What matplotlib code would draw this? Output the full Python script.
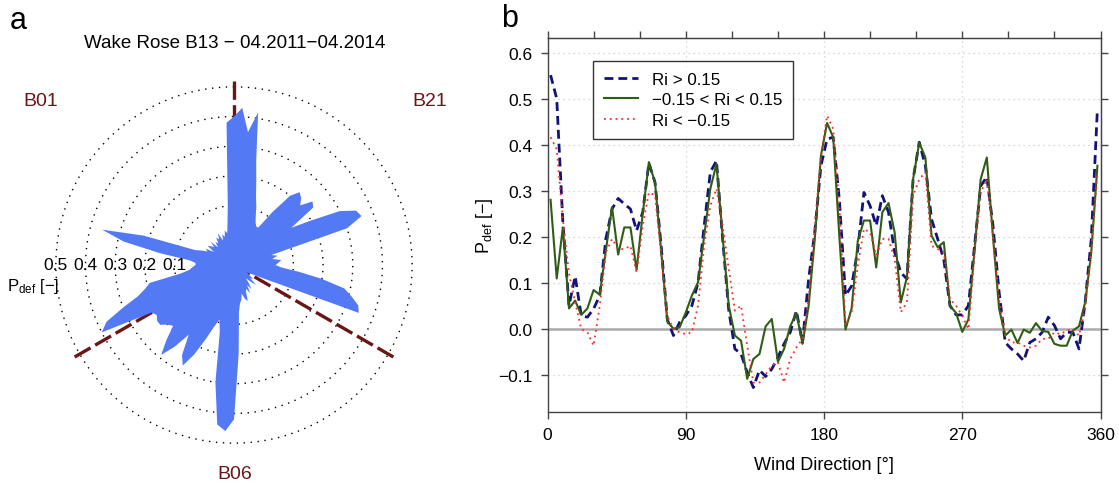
import numpy as np
import matplotlib
matplotlib.use('Agg')
import matplotlib.pyplot as plt

plt.rcParams['font.family'] = ['Liberation Sans', 'DejaVu Sans']
plt.rcParams['mathtext.fontset'] = 'custom'
plt.rcParams['mathtext.rm'] = 'Liberation Sans'
plt.rcParams['mathtext.it'] = 'Liberation Sans:italic'

# ---------------- data ----------------
rose_title = "Wake Rose B13 \u2212 04.2011\u221204.2014"
rose_dir = np.arange(0, 360, 3)
rose_pdef = [
    0.40, 0.43, 0.35, 0.42, 0.26, 0.19, 0.14, 0.11, 0.08, 0.06,
    0.05, 0.05, 0.12, 0.20, 0.23, 0.22, 0.20, 0.24, 0.23, 0.13,
    0.20, 0.30, 0.35, 0.36, 0.30, 0.03, 0.05, 0.03, 0.06, 0.05,
    0.04, 0.06, 0.12, 0.20, 0.28, 0.31, 0.34, 0.35, 0.02, -0.03,
    -0.05, -0.04, -0.02, -0.03, 0.00, -0.02, -0.04, -0.02, 0.00, -0.02,
    0.01, -0.01, 0.00, 0.03, 0.02, 0.00, 0.02, 0.03, 0.06, 0.20,
    0.42, 0.46, 0.44, 0.30, 0.13, 0.09, 0.12, 0.17, 0.23, 0.28,
    0.25, 0.18, 0.24, 0.29, 0.24, 0.19, 0.20, 0.22, 0.22, 0.21,
    0.22, 0.40, 0.37, 0.30, 0.24, 0.21, 0.19, 0.08, 0.05, 0.04,
    0.03, 0.03, 0.05, 0.15, 0.28, 0.36, 0.22, 0.04, 0.02, 0.00,
    0.01, -0.02, 0.01, 0.00, -0.01, 0.01, -0.02, 0.00, -0.01, 0.01,
    0.00, 0.02, -0.01, 0.01, 0.00, 0.02, 0.01, 0.04, 0.10, 0.38,
]
neighbour_labels = ["B01", "B21", "B06"]
neighbour_dirs = [0, 120, 240]
radial_ticks = [0.1, 0.2, 0.3, 0.4, 0.5]

wind_dir = np.arange(2, 360, 4)
pdef_stable = [
    0.551, 0.500, 0.231, 0.050, 0.114, 0.028, 0.025, 0.043, 0.072, 0.195,
    0.260, 0.283, 0.271, 0.260, 0.213, 0.253, 0.360, 0.318, 0.180, 0.020,
    -0.015, 0.014, 0.028, 0.050, 0.100, 0.224, 0.340, 0.365, 0.195, 0.040,
    -0.044, -0.055, -0.095, -0.128, -0.090, -0.104, -0.088, -0.062, -0.033, -0.008,
    0.039, -0.030, 0.108, 0.210, 0.354, 0.412, 0.416, 0.280, 0.072, 0.093,
    0.173, 0.296, 0.267, 0.224, 0.289, 0.253, 0.166, 0.122, 0.108, 0.325,
    0.405, 0.354, 0.238, 0.195, 0.150, 0.050, 0.030, 0.030, 0.050, 0.180,
    0.310, 0.330, 0.224, 0.079, -0.030, -0.044, -0.055, -0.070, -0.030, -0.022,
    -0.008, 0.025, 0.007, -0.022, -0.008, -0.008, -0.044, 0.057, 0.195, 0.478,
]
pdef_neutral = [
    0.280, 0.109, 0.220, 0.044, 0.061, 0.030, 0.044, 0.084, 0.074, 0.170,
    0.264, 0.161, 0.220, 0.220, 0.128, 0.250, 0.362, 0.317, 0.170, 0.015,
    0.000, 0.003, 0.035, 0.072, 0.101, 0.202, 0.304, 0.358, 0.200, 0.050,
    -0.015, -0.026, -0.109, -0.066, -0.055, 0.005, 0.021, -0.072, -0.044, 0.005,
    0.034, -0.033, 0.050, 0.195, 0.376, 0.447, 0.416, 0.200, -0.002, 0.044,
    0.191, 0.235, 0.235, 0.133, 0.253, 0.273, 0.209, 0.057, 0.112, 0.325,
    0.404, 0.372, 0.202, 0.177, 0.188, 0.050, 0.034, -0.007, 0.020, 0.170,
    0.325, 0.372, 0.200, 0.043, -0.015, -0.002, -0.031, -0.002, -0.009, 0.012,
    -0.005, -0.007, -0.033, -0.037, -0.037, -0.004, 0.005, 0.057, 0.166, 0.354,
]
pdef_unstable = [
    0.416, 0.390, 0.238, 0.120, 0.057, -0.001, -0.008, -0.037, 0.050, 0.166,
    0.195, 0.173, 0.173, 0.180, 0.122, 0.224, 0.296, 0.290, 0.159, 0.028,
    -0.001, -0.008, -0.012, -0.008, 0.050, 0.180, 0.267, 0.304, 0.224, 0.130,
    0.039, 0.050, -0.037, -0.117, -0.117, -0.099, -0.080, -0.073, -0.117, -0.066,
    -0.041, -0.022, 0.064, 0.224, 0.376, 0.463, 0.434, 0.267, 0.007, 0.036,
    0.137, 0.217, 0.209, 0.159, 0.195, 0.195, 0.151, 0.036, 0.057, 0.289,
    0.325, 0.340, 0.180, 0.173, 0.166, 0.064, 0.050, 0.028, -0.001, 0.166,
    0.296, 0.325, 0.200, 0.064, -0.015, -0.030, -0.030, -0.037, -0.041, -0.037,
    -0.022, -0.022, -0.008, -0.012, -0.004, -0.001, -0.015, 0.043, 0.173, 0.340,
]
series_labels = ["Ri > 0.15", "\u22120.15 < Ri < 0.15", "Ri < \u22120.15"]
xticks_major = [0, 90, 180, 270, 360]
yticks = [-0.1, 0.0, 0.1, 0.2, 0.3, 0.4, 0.5, 0.6]

PDEF_LABEL = '$\\mathregular{P_{def}}$ [\u2212]'

# ---------------- figure ----------------
W, H = 1119, 485
fig = plt.figure(figsize=(W / 100, H / 100), dpi=100)

def fx(px):
    return px / W

def fy(py):
    return 1 - py / H

# ---- panel a: polar wake rose ----
cx, cy, rad = 234, 266, 193
axp = fig.add_axes([fx(cx - rad), fy(cy + rad), 2 * rad / W, 2 * rad / H], projection='polar')
axp.set_theta_zero_location('N')
axp.set_theta_direction(-1)
axp.set_ylim(-0.1, 0.55)
axp.set_xticks([])
axp.set_yticks([])
axp.grid(False)
axp.spines['polar'].set_visible(False)
axp.patch.set_alpha(0)

circ = np.linspace(0, 2 * np.pi, 721)
for r in radial_ticks:
    axp.plot(circ, np.full_like(circ, r), color='black', lw=1.0,
             linestyle=(0, (1, 4)), zorder=1)
for d in neighbour_dirs:
    t = np.deg2rad(d)
    axp.plot([t, t], [-0.1, 0.53], color='#6b1616', lw=2.4,
             dashes=(5.5, 1.6), zorder=2, solid_capstyle='butt')

th = np.deg2rad(np.append(rose_dir, rose_dir[0]))
rv = np.append(rose_pdef, rose_pdef[0])
axp.fill(th, rv, color='#5479f5', lw=0, zorder=3)

for r in radial_ticks:
    axp.text(np.deg2rad(270), r, f"{r:.1f}", ha='center', va='center',
             fontsize=12.5, color='black', zorder=5)

fig.text(fx(33), fy(287), PDEF_LABEL, ha='center', va='center', fontsize=12)
fig.text(fx(235), fy(44), rose_title, ha='center', va='center', fontsize=13.5)
fig.text(fx(41), fy(102), neighbour_labels[0], ha='center', va='center', fontsize=14, color='#6b1616')
fig.text(fx(430), fy(102), neighbour_labels[1], ha='center', va='center', fontsize=14, color='#6b1616')
fig.text(fx(235), fy(475), neighbour_labels[2], ha='center', va='center', fontsize=14, color='#6b1616')
fig.text(fx(18), fy(21), 'a', ha='center', va='center', fontsize=22)
fig.text(fx(510), fy(19), 'b', ha='center', va='center', fontsize=22)

# ---- panel b: line chart ----
left, right, top, bottom = 547.5, 1100.5, 39.3, 412.5
ax = fig.add_axes([fx(left), fy(bottom), (right - left) / W, (bottom - top) / H])
ax.set_xlim(0, 360)
ax.set_ylim(-0.18, 0.631)

ax.axhline(0, color='#aaaaaa', lw=1.8, zorder=1)
for xv in xticks_major:
    ax.axvline(xv, color='#cccccc', lw=0.9, linestyle=(0, (1, 3)), zorder=0)
for yv in yticks:
    if yv != 0:
        ax.axhline(yv, color='#cccccc', lw=0.9, linestyle=(0, (1, 3)), zorder=0)

ax.plot(wind_dir, pdef_stable, color='#12127a', lw=2.0, dashes=(3.2, 1.8),
        label=series_labels[0], zorder=3)
ax.plot(wind_dir, pdef_neutral, color='#2f5d14', lw=1.5, label=series_labels[1], zorder=4)
ax.plot(wind_dir, pdef_unstable, color='#ff2a2a', lw=1.3, linestyle=(0, (1, 2.2)),
        label=series_labels[2], zorder=5)

ax.set_xticks(xticks_major)
ax.set_xticklabels([str(v) for v in xticks_major])
ax.set_yticks(yticks)
ax.set_yticklabels([f"{v:.1f}".replace('-', '\u2212') for v in yticks])
ax.tick_params(axis='both', direction='out', length=5, width=1, color='#444444',
               labelsize=12.5, pad=6)

# top and right ticks
axt = ax.secondary_xaxis('top')
axt.set_xticks(np.arange(0, 361, 30))
axt.set_xticklabels([])
axt.tick_params(direction='out', length=5, width=1, color='#444444')
axt.spines['top'].set_color('#444444')
axr = ax.secondary_yaxis('right')
axr.set_yticks(yticks)
axr.set_yticklabels([])
axr.tick_params(direction='out', length=5, width=1, color='#444444')
axr.spines['right'].set_color('#444444')

for s in ax.spines.values():
    s.set_color('#444444')
    s.set_linewidth(1.0)

ax.set_xlabel('Wind Direction [\u00b0]', fontsize=13, labelpad=10)
ax.set_ylabel(PDEF_LABEL, fontsize=13, labelpad=2)

leg = ax.legend(loc='upper left', bbox_to_anchor=((593.3 - left) / (right - left), (bottom - 61.7) / (bottom - top)),
                borderaxespad=0, fontsize=12.2, frameon=True, fancybox=False,
                handlelength=2.0, handletextpad=0.8, labelspacing=0.32,
                borderpad=0.65)
leg.get_frame().set_edgecolor('black')
leg.get_frame().set_linewidth(1.0)

fig.savefig('out.png', dpi=100)
